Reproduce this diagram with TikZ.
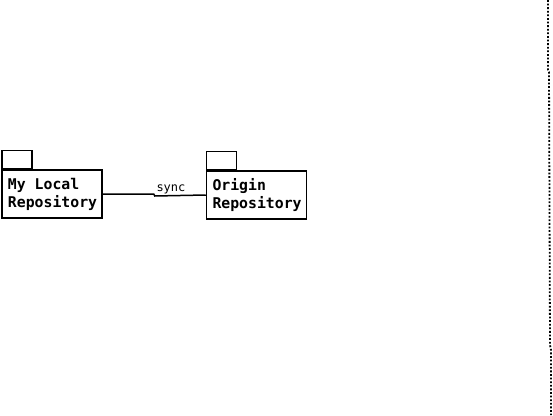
\documentclass[tikz,border=0pt]{standalone}
\usepackage{fontspec}
\setmonofont{DejaVu Sans Mono}
\usetikzlibrary
  {
    positioning,
  }
\newcommand\monosp{\hphantom{x}}
\tikzset
  {
    package/.style=
      {
        draw,
        line width=1.5pt,
        rectangle,
        minimum width=100pt,
        minimum height=48pt,
        text width=88pt,
        inner xsep=6pt,
        align=left,
        font=\ttfamily\bfseries\fontsize{14.8}{18}\selectfont,
      },
    tab/.style=
      {
        draw,
        line width=1.5pt,
        rectangle,
        minimum width=30pt,
        minimum height=18pt,
        inner sep=0pt,
        anchor=south west,
      },
    edge label/.style=
      {
        font=\ttfamily\fontsize{12}{13}\selectfont,
        inner sep=1pt,
      },
  }
\begin{document}
\begin{tikzpicture}[x=1pt, y=-1pt]
  \useasboundingbox (0,0) rectangle (553,415);

  \node[package] (local) at (52,194) {My\monosp Local\\Repository};
  \node[tab] (local tab) at (local.north west) {};

  \node[package] (origin) at (256.5,195) {Origin\\Repository};
  \node[tab] (origin tab) at (origin.north west) {};

  \draw[line width=1.5pt]
    (local.east) -- ++(51,0) -- ++(1,2)
    node[edge label, above right] {sync}
    -- (origin.west);

  % border on the right
  \draw[line width=1.8pt, dash pattern=on 1.8pt off 1.8pt]
    (548,0) -- (548,70) -- (549,72) -- (550,345) -- (551,350) -- (551,415);
\end{tikzpicture}
\end{document}
